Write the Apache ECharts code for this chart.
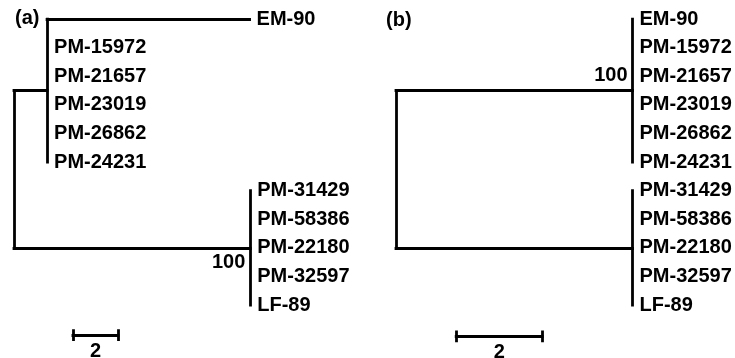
<!DOCTYPE html>
<html><head><meta charset="utf-8">
<script src="https://cdn.jsdelivr.net/npm/echarts@6/dist/echarts.min.js"></script>
<style>html,body{margin:0;padding:0;background:#fff}#c{width:735px;height:358px}</style>
</head><body><div id="c"></div>
<script>
// ---- data ----
const taxa = ['EM-90','PM-15972','PM-21657','PM-23019','PM-26862','PM-24231','PM-31429','PM-58386','PM-22180','PM-32597','LF-89'];
const clades = [[0,5],[6,10]];               // leaf index ranges of the two clades
const stemLenA = [1.47, 10.5];               // panel (a) clade stem branch lengths
const terminalLenA = [9.0,0,0,0,0,0,0,0,0,0,0];
const bootstrapA = [null, 100];
const stemLenB = [5.5, 5.5];                 // panel (b)
const terminalLenB = [0,0,0,0,0,0,0,0,0,0,0];
const bootstrapB = [100, null];
const scaleBarLen = 2;
const panelLabels = ['(a)','(b)'];

// ---- layout ----
const FONT = "'Liberation Sans', Arial, sans-serif";
const FS = 20;
const leafGap = 28.6, topY = 19, yMax = 11.5;
const panels = [
  {left:14, pxPerUnit:22.5, xMax:11, stem:stemLenA, term:terminalLenA, boot:bootstrapA, bootPos:[-5,15], barStart:2.62, barY:11.05},
  {left:396, pxPerUnit:43, xMax:6, stem:stemLenB, term:terminalLenB, boot:bootstrapB, bootPos:[-5,-15], barStart:1.40, barY:11.1}
];

const grids=[], xAxes=[], yAxes=[], series=[];
panels.forEach((p, k) => {
  grids.push({left:p.left, top:topY, width:p.pxPerUnit*p.xMax, height:leafGap*yMax});
  xAxes.push({type:'value', gridIndex:k, min:0, max:p.xMax, show:false});
  yAxes.push({type:'value', gridIndex:k, min:0, max:yMax, inverse:true, show:false});
  const segs=[], leaves=[], boots=[];
  const nodeYs = clades.map(c => (c[0]+c[1])/2);
  segs.push({coords:[[0,nodeYs[0]],[0,nodeYs[1]]]});
  clades.forEach((c, ci) => {
    const nx = p.stem[ci], ny = nodeYs[ci];
    segs.push({coords:[[0,ny],[nx,ny]]});
    segs.push({coords:[[nx,c[0]],[nx,c[1]]]});
    for (let i=c[0]; i<=c[1]; i++) {
      const ex = nx + p.term[i];
      if (p.term[i] > 0) segs.push({coords:[[nx,i],[ex,i]]});
      leaves.push({value:[ex,i], name:taxa[i]});
    }
    if (p.boot[ci] != null) boots.push({value:[nx,ny], name:String(p.boot[ci])});
  });
  // scale bar
  const tick = 4.5/leafGap;
  const bx0 = p.barStart, bx1 = p.barStart + scaleBarLen, by = p.barY;
  segs.push({coords:[[bx0,by],[bx1,by]]});
  segs.push({coords:[[bx0,by-tick],[bx0,by+tick]]});
  segs.push({coords:[[bx1,by-tick],[bx1,by+tick]]});
  const lineStyle = {color:'#000', width:2.8, opacity:1, cap:'square', curveness:0};
  series.push({type:'lines', coordinateSystem:'cartesian2d', xAxisIndex:k, yAxisIndex:k, polyline:false,
    silent:true, lineStyle, effect:{show:false}, data:segs, z:2});
  const txt = {show:true, color:'#000', opacity:1, fontFamily:FONT, fontWeight:'bold', fontSize:FS, formatter:'{b}'};
  const sc = {type:'scatter', xAxisIndex:k, yAxisIndex:k, symbolSize:0, silent:true, itemStyle:{opacity:1}};
  series.push(Object.assign({}, sc, {label:Object.assign({}, txt, {position:'right', distance:7}), data:leaves}));
  series.push(Object.assign({}, sc, {label:Object.assign({}, txt, {position:p.bootPos, align:'right', verticalAlign:'middle'}), data:boots}));
  series.push(Object.assign({}, sc, {label:Object.assign({}, txt, {position:[0,16], align:'center', verticalAlign:'middle'}),
    data:[{value:[bx0+scaleBarLen/2, by], name:String(scaleBarLen)}]}));
});

const chart = echarts.init(document.getElementById('c'), null, {renderer:'canvas'});
chart.setOption({
  animation:false,
  backgroundColor:'#fff',
  title:[
    {text:panelLabels[0], left:15, top:8, textStyle:{fontFamily:FONT, fontWeight:'bold', fontSize:FS, color:'#000'}, padding:0},
    {text:panelLabels[1], left:386, top:10, textStyle:{fontFamily:FONT, fontWeight:'bold', fontSize:FS, color:'#000'}, padding:0}
  ],
  grid:grids, xAxis:xAxes, yAxis:yAxes, series
});
</script></body></html>
